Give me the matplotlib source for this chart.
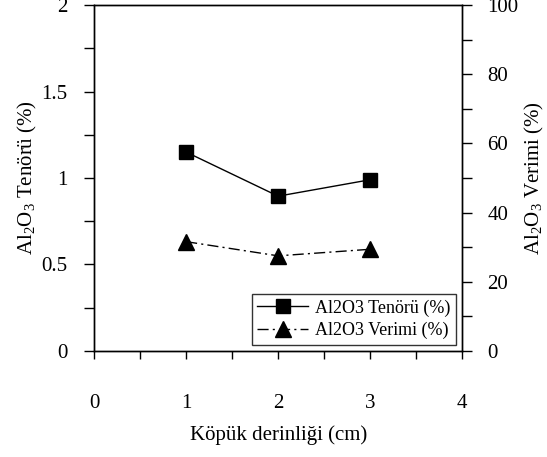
import matplotlib.pyplot as plt
from matplotlib.ticker import MultipleLocator

plt.rcParams['font.family'] = ['Liberation Serif', 'DejaVu Serif']
plt.rcParams['mathtext.fontset'] = 'custom'
plt.rcParams['mathtext.rm'] = 'Liberation Serif'
plt.rcParams['mathtext.it'] = 'Liberation Serif'

# data
depth = [1, 2, 3]
tenor = [1.15, 0.895, 0.99]       # Al2O3 Tenörü (%), left axis
verim = [31.6, 27.5, 29.4]        # Al2O3 Verimi (%), right axis

fig = plt.figure(figsize=(5.47, 4.57), dpi=100)
ax = fig.add_axes([0.172, 0.232, 0.673, 0.757])
ax2 = ax.twinx()

l1, = ax.plot(depth, tenor, color='black', linewidth=1.0, marker='s',
              markersize=10.5, label='Al2O3 Tenörü (%)')
l2, = ax2.plot(depth, verim, color='black', linewidth=1.0,
               linestyle=(0, (8, 3, 1.5, 3)),
               marker='^', markersize=11, label='Al2O3 Verimi (%)')

ax.set_xlim(0, 4)
ax.set_ylim(0, 2)
ax2.set_ylim(0, 100)

ax.xaxis.set_major_locator(MultipleLocator(1))
ax.xaxis.set_minor_locator(MultipleLocator(0.5))
ax.yaxis.set_minor_locator(MultipleLocator(0.25))
ax2.yaxis.set_major_locator(MultipleLocator(20))
ax2.yaxis.set_minor_locator(MultipleLocator(10))
ax.set_yticks([0, 0.5, 1, 1.5, 2])
ax.set_yticklabels(['0', '0.5', '1', '1.5', '2'])

ax.tick_params(axis='x', which='both', direction='out', length=6, width=1,
               labelsize=15, pad=25)
ax.tick_params(axis='y', which='both', direction='out', length=7, width=1,
               labelsize=15, pad=12)
ax2.tick_params(axis='y', which='both', direction='out', length=7, width=1,
                labelsize=15, pad=11)

for a in (ax, ax2):
    for s in a.spines.values():
        s.set_linewidth(1.0)

ax.set_xlabel('Köpük derinliği (cm)', fontsize=15, labelpad=9)
ax.set_ylabel('Al$_2$O$_3$ Tenörü (%)', fontsize=15, labelpad=2)
ax2.set_ylabel('Al$_2$O$_3$ Verimi (%)', fontsize=15, labelpad=3)

leg = ax.legend(handles=[l1, l2], loc='lower right', fontsize=13,
                frameon=True, fancybox=False, edgecolor='black',
                borderaxespad=0.35, handlelength=2.8, handletextpad=0.4,
                borderpad=0.3, labelspacing=0.3)
leg.get_frame().set_linewidth(1.0)

fig.savefig('out.png', dpi=100)
